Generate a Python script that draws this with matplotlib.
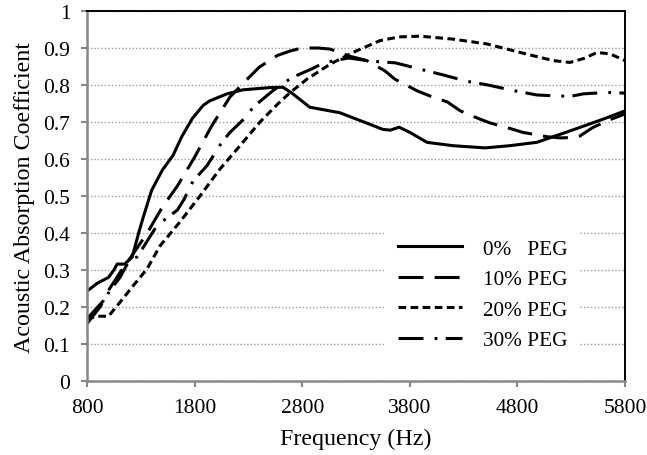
import matplotlib
matplotlib.use("Agg")
import matplotlib.pyplot as plt

plt.rcParams['font.family'] = ['Liberation Serif', 'DejaVu Serif']
plt.rcParams['lines.scale_dashes'] = False

# 0% PEG
freq_0 = [800, 900, 1000, 1050, 1080, 1150, 1220, 1280, 1320, 1400, 1500, 1600, 1680, 1780,
          1880, 1940, 2100, 2250, 2500, 2620, 2700, 2870, 3150, 3400, 3550, 3620, 3700, 3800,
          3960, 4200, 4500, 4730, 4980, 5290, 5600, 5800]
peg_0 = [0.243, 0.265, 0.28, 0.30, 0.316, 0.316, 0.335, 0.40, 0.44, 0.515, 0.57, 0.61, 0.66, 0.71,
         0.745, 0.757, 0.776, 0.787, 0.793, 0.794, 0.779, 0.74, 0.725, 0.697, 0.68, 0.678, 0.686, 0.672,
         0.645, 0.636, 0.63, 0.636, 0.645, 0.676, 0.708, 0.73]

# 10% PEG
freq_10 = [800, 950, 1000, 1100, 1220, 1360, 1500, 1640, 1800, 1960, 2130, 2290, 2400, 2570,
           2700, 2800, 2950, 3060, 3240, 3400, 3570, 3660, 3870, 3990, 4150, 4270, 4450, 4550,
           4640, 4760, 4850, 5080, 5200, 5300, 5380, 5500, 5650, 5800]
peg_10 = [0.168, 0.216, 0.245, 0.29, 0.34, 0.40, 0.47, 0.527, 0.605, 0.69, 0.768, 0.816, 0.848, 0.88,
          0.893, 0.9, 0.9, 0.897, 0.878, 0.866, 0.838, 0.816, 0.784, 0.77, 0.754, 0.73, 0.708, 0.697,
          0.69, 0.68, 0.672, 0.66, 0.657, 0.658, 0.662, 0.685, 0.705, 0.722]

# 20% PEG
freq_20 = [800, 880, 1000, 1107, 1228, 1358, 1478, 1664, 1850, 2036, 2222, 2408, 2570, 2690,
           2845, 3058, 3272, 3523, 3700, 3895, 4200, 4517, 4824, 5131, 5289, 5420, 5540, 5661, 5800]
peg_20 = [0.165, 0.175, 0.175, 0.213, 0.257, 0.303, 0.365, 0.43, 0.50, 0.573, 0.636, 0.70, 0.748, 0.78,
          0.816, 0.856, 0.888, 0.92, 0.93, 0.932, 0.924, 0.911, 0.888, 0.866, 0.861, 0.872, 0.888, 0.884, 0.866]

# 30% PEG
freq_30 = [800, 921, 1014, 1107, 1200, 1265, 1320, 1450, 1540, 1640, 1700, 1785, 1915, 2055, 2129,
           2287, 2343, 2529, 2705, 2900, 3000, 3230, 3430, 3551, 3663, 3895, 3988, 4100, 4331,
           4527, 4760, 4982, 5196, 5308, 5410, 5633, 5800]
peg_30 = [0.155, 0.20, 0.245, 0.28, 0.33, 0.335, 0.36, 0.42, 0.44, 0.462, 0.49, 0.54, 0.582, 0.646, 0.672,
          0.716, 0.74, 0.785, 0.82, 0.845, 0.86, 0.873, 0.865, 0.862, 0.86, 0.843, 0.836, 0.828, 0.81,
          0.80, 0.785, 0.773, 0.77, 0.77, 0.776, 0.78, 0.778]

x_ticks = [800, 1800, 2800, 3800, 4800, 5800]
y_ticks = [0, 0.1, 0.2, 0.3, 0.4, 0.5, 0.6, 0.7, 0.8, 0.9, 1]
y_labels = ['0', '0.1', '0.2', '0.3', '0.4', '0.5', '0.6', '0.7', '0.8', '0.9', '1']

fig = plt.figure(figsize=(6.47, 4.56), dpi=100)
ax = fig.add_axes([87 / 647, 1 - 382 / 456, (625 - 87) / 647, (382 - 12) / 456])

lw = 2.2
ax.plot(freq_0, peg_0, color='black', lw=lw, label='0%   PEG')
ax.plot(freq_10, peg_10, color='black', lw=lw, dashes=(18, 8), label='10% PEG')
ax.plot(freq_20, peg_20, color='black', lw=lw, dashes=(5.5, 3.2), label='20% PEG')
ax.plot(freq_30, peg_30, color='black', lw=lw, dashes=(18, 8, 2, 6), label='30% PEG')

ax.set_xlim(800, 5800)
ax.set_ylim(0, 1)
ax.set_xticks(x_ticks)
ax.set_xticklabels([str(t) for t in x_ticks])
ax.set_yticks(y_ticks)
ax.set_yticklabels(y_labels)

ax.yaxis.grid(True, color='#9a9a9a', linestyle=(0, (1, 1.5)), lw=1.0)
ax.set_axisbelow(True)

for s in ['left', 'bottom']:
    ax.spines[s].set_color('#888888')
    ax.spines[s].set_linewidth(1.8)
for s in ['top', 'right']:
    ax.spines[s].set_color('black')
    ax.spines[s].set_linewidth(1.4)

ax.tick_params(axis='both', direction='out', length=4, width=1.5, color='#888888',
               labelsize=15.5, pad=8)

ax.set_xlabel('Frequency (Hz)', fontsize=17.3, labelpad=8)
ax.set_ylabel('Acoustic Absorption Coefficient', fontsize=17.3, labelpad=6)

leg = ax.legend(loc='lower right', bbox_to_anchor=(0.937, 0.02), fontsize=15.3,
                handlelength=3.0, labelspacing=0.5, frameon=True, fancybox=False,
                borderpad=0.6, handletextpad=1.0)
leg.get_frame().set_facecolor('white')
leg.get_frame().set_edgecolor('none')
leg.get_frame().set_alpha(1)

fig.savefig('out.png', dpi=100)
